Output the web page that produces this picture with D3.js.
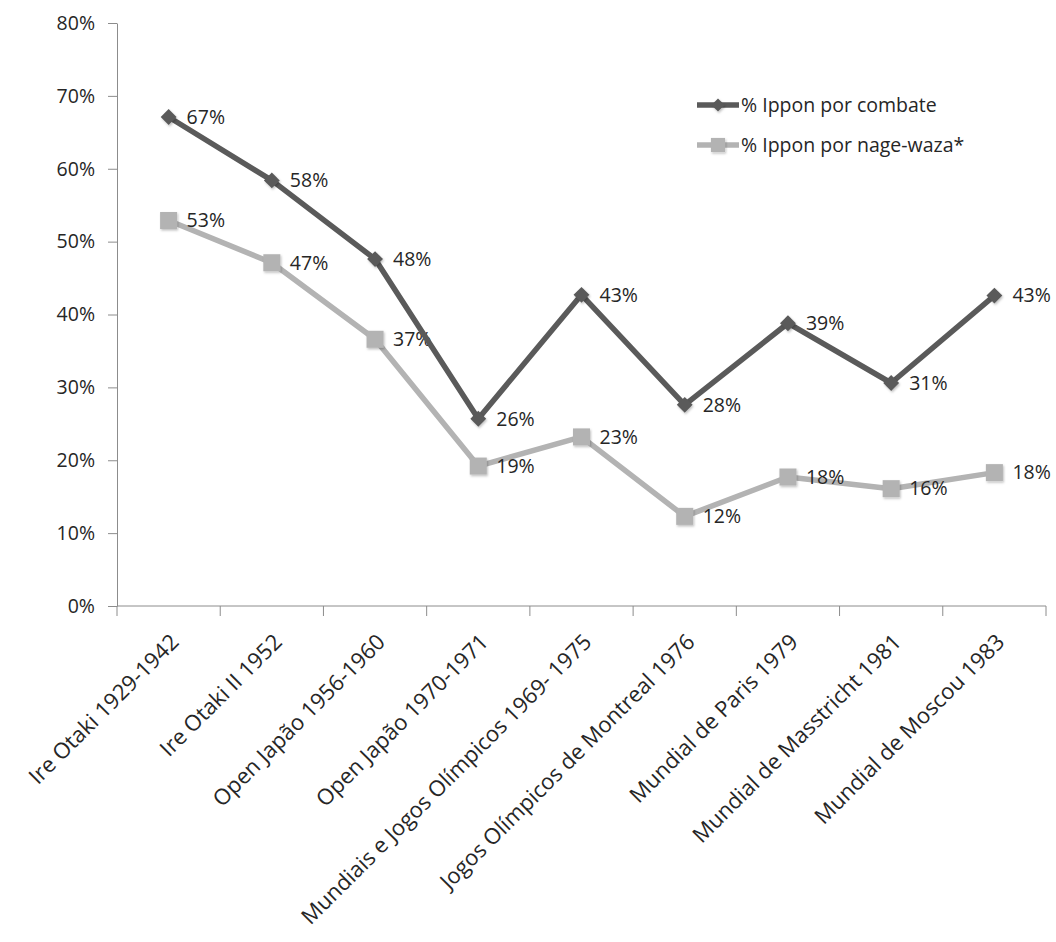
<!DOCTYPE html>
<html>
<head>
<meta charset="utf-8">
<script src="https://cdn.jsdelivr.net/npm/d3@7"></script>
<style>
  html, body { margin: 0; padding: 0; background: #fff; }
  svg { display: block; }
  text { font-family: "Open Sans", sans-serif; fill: #262626; }
</style>
</head>
<body>
<svg id="chart" width="1056" height="942"></svg>
<script>
const categories = [
  "Ire Otaki 1929-1942",
  "Ire Otaki II 1952",
  "Open Japão 1956-1960",
  "Open Japão 1970-1971",
  "Mundiais e Jogos Olímpicos 1969- 1975",
  "Jogos Olímpicos de Montreal 1976",
  "Mundial de Paris 1979",
  "Mundial de Masstricht 1981",
  "Mundial de Moscou 1983"
];
const combate = [0.671, 0.584, 0.476, 0.257, 0.427, 0.276, 0.388, 0.306, 0.426];
const nageWaza = [0.529, 0.471, 0.366, 0.192, 0.232, 0.123, 0.177, 0.161, 0.183];
const yTicks = [0, 0.1, 0.2, 0.3, 0.4, 0.5, 0.6, 0.7, 0.8];
const seriesNames = ["% Ippon por combate", "% Ippon por nage-waza*"];

const DARK = "#5a5a5a";
const LIGHT = "#b3b3b3";
const AXIS = "#8c8c8c";

const svg = d3.select("#chart");

const plotLeft = 117, plotRight = 1046, plotTop = 23, plotBottom = 606;

const x = d3.scaleBand().domain(categories).range([plotLeft, plotRight]);
const cx = d => x(d) + x.bandwidth() / 2;
const y = d3.scaleLinear().domain([0, 0.8]).range([plotBottom, plotTop]);
const pct = d3.format(".0%");

// soft shadow like the spreadsheet markers
const defs = svg.append("defs");
defs.append("filter")
  .attr("id", "shadow")
  .attr("x", "-50%").attr("y", "-50%").attr("width", "200%").attr("height", "200%")
  .append("feDropShadow")
  .attr("dx", 1).attr("dy", 1.5).attr("stdDeviation", 1.2)
  .attr("flood-color", "#000").attr("flood-opacity", 0.25);

// Y axis
const yAxis = svg.append("g")
  .attr("transform", `translate(${plotLeft},0)`)
  .call(d3.axisLeft(y).tickValues(yTicks).tickFormat(pct).tickSize(9).tickSizeOuter(0).tickPadding(13));
yAxis.select(".domain").attr("stroke", AXIS);
yAxis.selectAll(".tick line").attr("stroke", AXIS);
yAxis.selectAll(".tick text")
  .attr("font-size", 19.5)
  .attr("fill", "#262626")
  .attr("font-family", "Open Sans, sans-serif");

// X axis (ticks between categories)
const xAxis = svg.append("g");
xAxis.append("line")
  .attr("x1", plotLeft).attr("x2", plotRight)
  .attr("y1", plotBottom).attr("y2", plotBottom)
  .attr("stroke", AXIS);
const edges = categories.map(d => x(d)).concat([plotRight]);
xAxis.selectAll(".xtick")
  .data(edges)
  .join("line")
  .attr("class", "xtick")
  .attr("x1", d => d).attr("x2", d => d)
  .attr("y1", plotBottom).attr("y2", plotBottom + 10)
  .attr("stroke", AXIS);
xAxis.selectAll(".xlabel")
  .data(categories)
  .join("text")
  .attr("class", "xlabel")
  .attr("transform", d => `translate(${cx(d) + 6},${plotBottom + 32}) rotate(-45)`)
  .attr("text-anchor", "end")
  .attr("dy", "0.35em")
  .attr("font-size", 22)
  .text(d => d);

// Lines
const line = d3.line()
  .x((d, i) => cx(categories[i]))
  .y(d => y(d));

const diamond = d3.symbol().type(d3.symbolDiamond2).size(160);
const square = d3.symbol().type(d3.symbolSquare).size(290);

function drawSeries(values, color, sym, cls) {
  svg.append("path")
    .datum(values)
    .attr("fill", "none")
    .attr("stroke", color)
    .attr("stroke-width", 5.5)
    .attr("stroke-linejoin", "round")
    .attr("d", line);

  svg.selectAll("." + cls)
    .data(values)
    .join("path")
    .attr("class", cls)
    .attr("transform", (d, i) => `translate(${cx(categories[i])},${y(d)})`)
    .attr("d", sym)
    .attr("fill", color)
    .attr("filter", "url(#shadow)");

  svg.selectAll("." + cls + "-label")
    .data(values)
    .join("text")
    .attr("class", cls + "-label")
    .attr("x", (d, i) => cx(categories[i]) + 18)
    .attr("y", d => y(d))
    .attr("dy", "0.35em")
    .attr("font-size", 19.5)
    .text(d => pct(d));
}

drawSeries(nageWaza, LIGHT, square, "sq");
drawSeries(combate, DARK, diamond, "dm");

// Legend
const legend = svg.append("g");
const legendItems = [
  { name: seriesNames[0], color: DARK, sym: d3.symbol().type(d3.symbolDiamond2).size(110) },
  { name: seriesNames[1], color: LIGHT, sym: d3.symbol().type(d3.symbolSquare).size(200) }
];
legendItems.forEach((it, i) => {
  const ly = 105 + i * 40;
  legend.append("line")
    .attr("x1", 697).attr("x2", 739)
    .attr("y1", ly).attr("y2", ly)
    .attr("stroke", it.color).attr("stroke-width", 5.5);
  legend.append("path")
    .attr("transform", `translate(718,${ly})`)
    .attr("d", it.sym)
    .attr("fill", it.color)
    .attr("filter", "url(#shadow)");
  legend.append("text")
    .attr("x", 741).attr("y", ly)
    .attr("dy", "0.35em")
    .attr("font-size", 19.5)
    .text(it.name);
});
</script>
</body>
</html>
